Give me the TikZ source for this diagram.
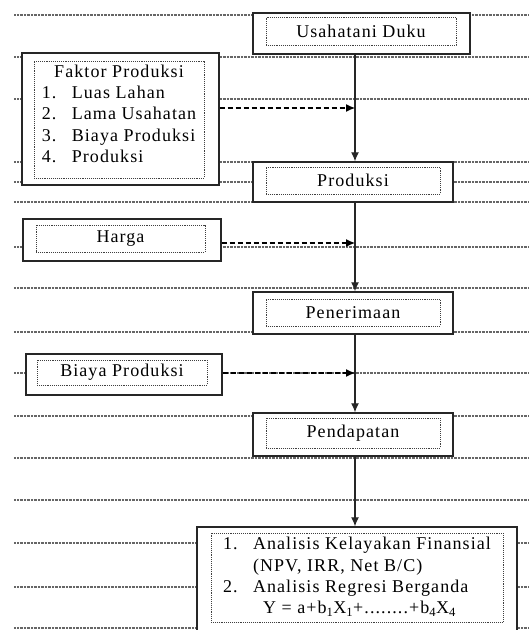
\documentclass[tikz,border=0pt]{standalone}
\usepackage{fontspec}
\setmainfont{Liberation Serif}[LetterSpace=6]
\usetikzlibrary{arrows.meta}

\begin{document}
\begin{tikzpicture}[x=1pt,y=-1pt,
    kotak/.style={draw=black!85,line width=1.4pt,fill=white,minimum width=200pt,inner sep=0pt},
    isi/.style={draw=black!75,densely dotted,line width=0.9pt,minimum width=174pt,inner sep=0pt,
      font=\fontsize{18}{21.3}\selectfont},
    garis/.style={black!60,line width=1.2pt,dash pattern=on 0.8pt off 0.6pt},
    panah/.style={black!85,line width=1.1pt,-{Latex[length=9pt,width=8pt]}},
    putus/.style={line width=1.1pt,dash pattern=on 5pt off 3pt,-{Latex[length=9pt,width=8pt]}}]
  % batas gambar
  \clip (0,0) rectangle (529,630);
  % garis latar
  \foreach \y in {15,57,99,162,182,202,247,288,332,373,416,458,500,543,587,628}
    \draw[garis] (14,\y) -- (529,\y);
  % kotak utama (kolom tengah)
  \node[kotak,minimum width=217pt,minimum height=41pt] (usaha) at (361.5,33.5) {};
  \node[isi,minimum width=190pt,minimum height=28pt] (usahaIsi) at (361,31) {Usahatani Duku};
  \node[kotak,minimum height=40pt] (prod) at (353,182) {};
  \node[isi,minimum height=27pt] (prodIsi) at (353,180.5) {Produksi};
  \node[kotak,minimum height=42pt] (terima) at (353,313) {};
  \node[isi,minimum height=27pt] (terimaIsi) at (353,312.5) {Penerimaan};
  \node[kotak,minimum height=43pt] (dapat) at (353,434.5) {};
  \node[isi,minimum height=30pt] (dapatIsi) at (353,433) {Pendapatan};
  \node[kotak,minimum width=320pt,minimum height=113pt] (analisis) at (357,583.5) {};
  \node[isi,minimum width=292pt,minimum height=89pt] (analisisIsi) at (357,577.5) {%
    \begin{tabular}{@{}p{30pt}@{}l@{}}
      1. & Analisis Kelayakan Finansial\\
         & (NPV, IRR, Net B/C)\\
      2. & Analisis Regresi Berganda\\
         & \hspace{10pt}Y = a+b\textsubscript{1}X\textsubscript{1}+........+b\textsubscript{4}X\textsubscript{4}
    \end{tabular}};
  % kotak masukan (kiri)
  \node[kotak,minimum width=197pt,minimum height=132pt] (faktor) at (120.5,119) {};
  \node[isi,minimum width=170pt,minimum height=117pt] (faktorIsi) at (119,119.5) {%
    \begin{tabular}{@{}p{30pt}@{}l@{}}
      \multicolumn{2}{c}{Faktor Produksi}\\
      1. & Luas Lahan\\
      2. & Lama Usahatan\\
      3. & Biaya Produksi\\
      4. & Produksi\\[8pt]
    \end{tabular}};
  \node[kotak,minimum width=198pt,minimum height=42pt] (harga) at (122,240) {};
  \node[isi,minimum width=169pt,minimum height=27pt] (hargaIsi) at (120.5,238.5) {Harga};
  \node[kotak,minimum width=196pt,minimum height=41pt] (biaya) at (124,374.5) {};
  \node[isi,minimum width=170pt,minimum height=25pt] (biayaIsi) at (122,372.5) {Biaya Produksi};
  % panah utama
  \coordinate (poros) at (355,0);
  \draw[panah] (usaha.south -| poros) -- (prod.north -| poros);
  \draw[panah] (prod.south -| poros) -- (terima.north -| poros);
  \draw[panah] (terima.south -| poros) -- (dapat.north -| poros);
  \draw[panah] (dapat.south -| poros) -- (analisis.north -| poros);
  % panah putus-putus
  \coordinate (t1) at (355,108);
  \coordinate (t2) at (355,243);
  \coordinate (t3) at (355,373);
  \draw[putus] (faktor.east |- t1) -- (t1);
  \draw[putus] (harga.east |- t2) -- (t2);
  \draw[putus] (biaya.east |- t3) -- (t3);
\end{tikzpicture}
\end{document}
